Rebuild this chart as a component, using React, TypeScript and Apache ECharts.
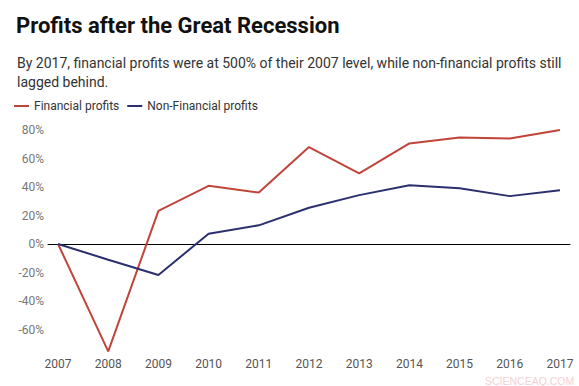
import React, { useEffect, useRef } from "react";
import * as echarts from "echarts";

const years = [2007, 2008, 2009, 2010, 2011, 2012, 2013, 2014, 2015, 2016, 2017];
const financial = [0, -75.3, 23.3, 40.8, 36.1, 68, 49.6, 70.6, 74.8, 74, 80];
const nonFinancial = [0, -11, -21.7, 7.2, 13.1, 25.4, 34.3, 41.3, 39.2, 33.6, 37.8];
const yTicks = [-60, -40, -20, 0, 20, 40, 60, 80];

const FONT = "Roboto, 'Noto Sans', sans-serif";

export default function App() {
  const ref = useRef<HTMLDivElement>(null);
  useEffect(() => {
    if (!ref.current) return;
    const chart = echarts.init(ref.current, null, { renderer: "svg" });
    chart.setOption({
      animation: false,
      backgroundColor: "#fff",
      textStyle: { fontFamily: FONT },
      title: [
        {
          text: "Profits after the Great Recession",
          left: 11,
          top: 9,
          textStyle: { fontFamily: FONT, fontSize: 22, fontWeight: "bold", color: "#111" },
        },
        {
          text: "By 2017, financial profits were at 500% of their 2007 level, while non-financial profits still\nlagged behind.",
          left: 12,
          top: 48,
          textStyle: { fontFamily: FONT, fontSize: 14, fontWeight: "normal", color: "#333", lineHeight: 19 },
        },
        {
          text: "SCIENCEAQ.COM",
          left: 480,
          top: 370,
          textStyle: { fontFamily: "'Liberation Sans', sans-serif", fontSize: 10.5, fontWeight: "normal", color: "#f5cfd4" },
        },
      ],
      legend: {
        left: 9,
        top: 95,
        itemWidth: 15,
        itemHeight: 2,
        itemGap: 8,
        icon: "rect",
        textStyle: { fontFamily: FONT, fontSize: 12, color: "#333" },
        data: ["Financial profits", "Non-Financial profits"],
      },
      grid: { left: 48, right: 9, top: 130, bottom: 386 - 358 },
      xAxis: {
        type: "value",
        min: 2006.8,
        max: 2017.2,
        splitNumber: 10,
        axisLine: { onZero: true, lineStyle: { color: "#000", width: 1 } },
        axisTick: { show: false },
        splitLine: { show: false },
        axisLabel: {
          color: "#555",
          fontSize: 12,
          fontFamily: FONT,
          margin: 0,
          showMinLabel: false,
          showMaxLabel: false,
          formatter: (v: number) => (years.includes(Math.round(v)) && Math.abs(v - Math.round(v)) < 0.01 ? String(Math.round(v)) : ""),
        },
      },
      yAxis: {
        type: "value",
        min: -80,
        max: 80,
        interval: 20,
        axisLine: { show: false },
        axisTick: { show: false },
        splitLine: { show: false },
        axisLabel: {
          color: "#777",
          fontSize: 12,
          fontFamily: FONT,
          margin: 4,
          formatter: (v: number) => (yTicks.includes(v) ? v + "%" : ""),
        },
      },
      series: [
        {
          name: "Financial profits",
          type: "line",
          data: years.map((y, i) => [y, financial[i]]),
          symbol: "none",
          color: "#c0443a",
          lineStyle: { width: 2, color: "#c0443a" },
        },
        {
          name: "Non-Financial profits",
          type: "line",
          data: years.map((y, i) => [y, nonFinancial[i]]),
          symbol: "none",
          color: "#2b2f6e",
          lineStyle: { width: 2, color: "#2b2f6e" },
        },
      ],
    });
    return () => chart.dispose();
  }, []);
  return <div ref={ref} style={{ width: 579, height: 386, position: "absolute", left: 0, top: 0 }} />;
}
